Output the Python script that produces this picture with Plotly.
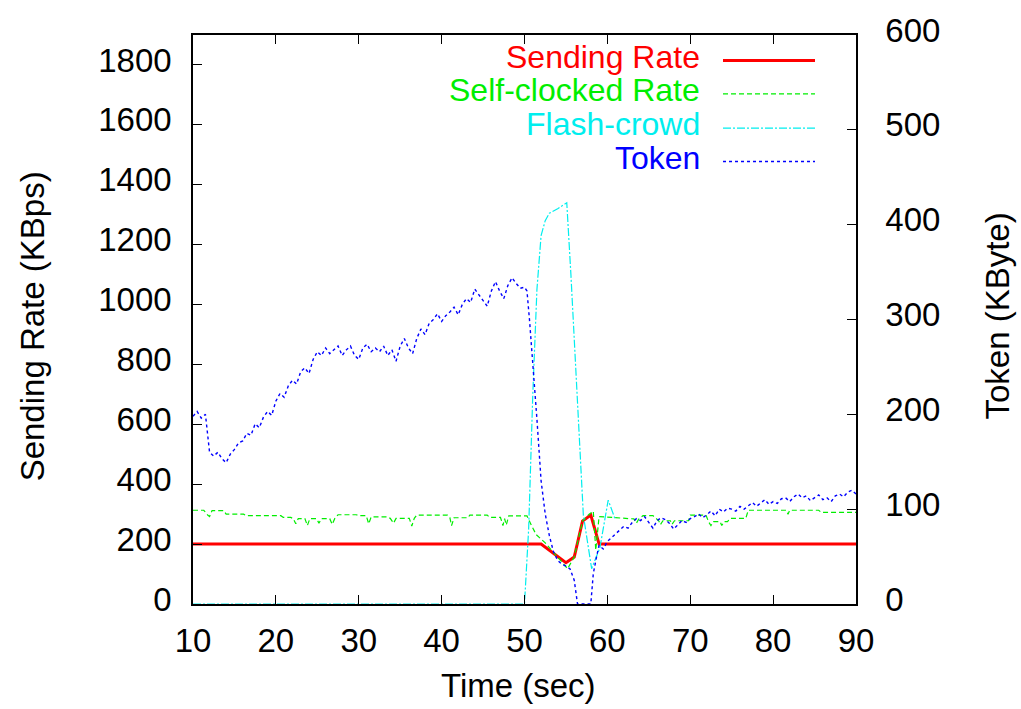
import plotly.graph_objects as go

# ---------------- data ----------------
# Sending Rate (KBps), left axis
send_t = [10, 52, 55, 56, 57, 58, 59, 90]
send_v = [200, 200, 138, 157, 277, 297, 200, 200]

# Self-clocked Rate (KBps), left axis
self_t = [10, 11.3, 11.8, 12.0, 12.3, 13.7, 14.0, 16.1, 16.4, 20.6, 20.9, 21.8, 22.1, 22.4, 22.7,
          23.5, 23.8, 24.1, 24.9, 25.2, 25.5, 26.5, 26.8, 27.1, 27.5, 29.7, 30.0, 30.9, 31.2, 31.5,
          33.4, 33.8, 34.2, 34.5, 36.1, 36.4, 36.7, 37.0, 40.7, 41.0, 41.2, 41.5, 43.2, 43.4,
          45.5, 45.8, 47.1, 47.4, 47.6, 47.8, 48.1, 50.3, 50.8, 51.4, 52.5, 55.2, 56.0, 57.0,
          57.8, 58.3, 58.6, 59.0, 63.2, 63.5, 63.8, 64.3, 65.5, 66.2, 66.4, 66.7, 67.6, 67.8,
          68.1, 68.4, 69.8, 70.0, 71.9, 72.2, 72.5, 72.8, 73.6, 73.8, 74.1, 74.5, 74.8, 76.7,
          77.0, 81.6, 81.8, 82.0, 85.5, 85.8, 90]
self_v = [313, 313, 296, 292, 312, 312, 300, 300, 295, 295, 289, 289, 285, 268, 285,
          285, 262, 285, 285, 270, 285, 285, 266, 285, 298, 298, 295, 295, 268, 291,
          291, 286, 270, 286, 286, 260, 286, 297, 297, 288, 262, 288, 288, 297,
          297, 289, 289, 262, 285, 264, 294, 294, 265, 232, 204, 118, 157, 277,
          300, 310, 180, 292, 284, 270, 284, 295, 295, 278, 265, 278, 278, 266,
          278, 278, 278, 297, 297, 275, 262, 275, 275, 262, 275, 275, 286, 286,
          313, 313, 300, 313, 313, 306, 306]

# Flash-crowd (KBps), left axis
flash_t = [10, 50, 50.5, 51, 51.5, 52, 52.5, 53, 54, 55.1, 55.6, 56.1, 57.1, 58.1, 59.1, 60.1, 60.9]
flash_v = [0, 0, 250, 700, 1050, 1230, 1280, 1305, 1320, 1340, 1100, 843, 297, 118, 188, 347, 286]

# Token (KByte), right axis
token_t = [10.0, 10.5, 11.0, 11.5, 12.0, 12.5, 13.0, 13.5, 14.0, 14.5, 15.0, 15.5, 16.0, 16.5,
           17.0, 17.5, 18.0, 18.5, 19.0, 19.5, 20.0, 20.5, 21.0, 21.5, 22.0, 22.5, 23.0, 23.5,
           24.0, 24.5, 25.0, 25.5, 26.0, 26.5, 27.0, 27.5, 28.0, 28.5, 29.0, 29.5, 30.0, 30.5,
           31.0, 31.5, 32.0, 32.5, 33.0, 33.5, 34.0, 34.5, 35.0, 35.5, 36.0, 36.5, 37.0, 37.5,
           38.0, 38.5, 39.0, 39.5, 40.0, 40.5, 41.0, 41.5, 42.0, 42.5, 43.0, 43.5, 44.0, 44.5,
           45.0, 45.5, 46.0, 46.5, 47.0, 47.5, 48.0, 48.5, 49.0, 49.5, 50.0, 50.3, 50.6, 50.9,
           51.2, 51.5, 52.0, 52.5, 53.0, 53.5, 54.0, 54.5, 55.0, 55.5, 56.0, 56.4, 58.0, 58.3,
           58.7, 59.0, 59.5, 60.0, 60.5, 61.0, 61.5, 62.0, 62.5, 63.0, 63.5, 64.0, 64.5, 65.0,
           65.5, 66.0, 66.5, 67.0, 67.5, 68.0, 68.5, 69.0, 69.5, 70.0, 70.5, 71.0, 71.5, 72.0,
           72.5, 73.0, 73.5, 74.0, 74.5, 75.0, 75.5, 76.0, 76.5, 77.0, 77.5, 78.0, 78.5, 79.0,
           79.5, 80.0, 80.5, 81.0, 81.5, 82.0, 82.5, 83.0, 83.5, 84.0, 84.5, 85.0, 85.5, 86.0,
           86.5, 87.0, 87.5, 88.0, 88.5, 89.0, 89.5, 90.0]
token_v = [198, 203, 196, 200, 160, 156, 160, 153, 149, 158, 163, 170, 172, 180,
           178, 190, 186, 197, 203, 199, 214, 222, 218, 230, 236, 232, 245, 249,
           243, 258, 266, 262, 270, 264, 268, 272, 262, 268, 272, 262, 258, 270,
           274, 266, 270, 266, 272, 262, 268, 256, 272, 280, 270, 264, 280, 290,
           284, 296, 300, 306, 298, 304, 308, 313, 305, 316, 322, 318, 332, 326,
           320, 314, 330, 340, 330, 322, 336, 344, 338, 333, 334, 330, 300, 266,
           230, 195, 130, 95, 72, 55, 46, 42, 40, 37, 25, 0, 0, 32,
           50, 62, 58, 66, 70, 74, 79, 82, 80, 86, 90, 88, 92, 86,
           80, 88, 91, 89, 85, 79, 84, 88, 86, 90, 92, 95, 91, 94,
           98, 93, 100, 97, 101, 100, 98, 103, 100, 104, 107, 103, 107, 110,
           105, 108, 106, 111, 112, 108, 113, 116, 112, 114, 109, 112, 115, 110,
           112, 108, 114, 116, 113, 118, 120, 116]

x_ticks = [10, 20, 30, 40, 50, 60, 70, 80, 90]
y_ticks = [0, 200, 400, 600, 800, 1000, 1200, 1400, 1600, 1800]
y2_ticks = [0, 100, 200, 300, 400, 500, 600]

names = ["Sending Rate", "Self-clocked Rate", "Flash-crowd", "Token"]
colors = ["#ff0000", "#00ee00", "#00eeee", "#0000ff"]
widths = [3, 1.2, 1.2, 1.4]
dashes = ["solid", "5px,3px", "8px,2px,2px,2px", "3px,3px"]

FONT = "Liberation Sans, Arial, Helvetica, sans-serif"
FS = 33
LEG_FS = 32

fig = go.Figure()
series = [(send_t, send_v, "y"), (self_t, self_v, "y"), (flash_t, flash_v, "y"), (token_t, token_v, "y2")]
for (t, v, ax), nm, c, w, d in zip(series, names, colors, widths, dashes):
    fig.add_trace(go.Scatter(x=t, y=v, mode="lines", name=nm, yaxis=ax,
                             line=dict(color=c, width=w, dash=d), showlegend=False))

# manual gnuplot-style legend: right aligned text, sample to the right
L, R, T, B = 193, 856, 24, 604
W, H = R - L, B - T
rows = [50, 84, 119, 153]
for nm, c, w, d, yy in zip(names, colors, widths, dashes, rows):
    py = (B - yy) / H
    fig.add_annotation(x=(701 - L) / W, y=(B - yy + 4) / H, xref="paper", yref="paper", text=nm,
                       showarrow=False, xanchor="right", yanchor="middle", borderpad=0,
                       font=dict(family=FONT, size=LEG_FS, color=c))
    fig.add_shape(type="line", xref="paper", yref="paper", x0=(723 - L) / W, x1=(815 - L) / W,
                  y0=py, y1=py, line=dict(color=c, width=w, dash=d))

# axis titles
fig.add_annotation(x=(518 - L) / W, y=(B - 687) / H, xref="paper", yref="paper", text="Time (sec)",
                   showarrow=False, xanchor="center", yanchor="middle",
                   font=dict(family=FONT, size=FS, color="black"))
fig.add_annotation(x=(32 - L) / W, y=(B - 321) / H, xref="paper", yref="paper",
                   text="Sending Rate (KBps)", textangle=-90,
                   showarrow=False, xanchor="center", yanchor="middle",
                   font=dict(family=FONT, size=FS, color="black"))
fig.add_annotation(x=(998 - L) / W, y=(B - 310) / H, xref="paper", yref="paper",
                   text="Token (KByte)", textangle=-90,
                   showarrow=False, xanchor="center", yanchor="middle",
                   font=dict(family=FONT, size=FS, color="black"))

axis_common = dict(showgrid=False, zeroline=False, showline=True, linecolor="black", linewidth=1.5,
                   ticks="inside", ticklen=9, tickwidth=1, tickcolor="black",
                   tickfont=dict(family=FONT, size=FS, color="black"))

fig.update_layout(
    width=1021, height=709,
    margin=dict(l=L, r=1021 - R, t=T, b=709 - B),
    paper_bgcolor="white", plot_bgcolor="white",
    font=dict(family=FONT, size=FS, color="black"),
    xaxis=dict(range=[10, 90], tickvals=x_ticks, mirror="ticks", ticklabelstandoff=7, **axis_common),
    yaxis=dict(range=[0, 1900], tickvals=y_ticks, mirror=True, ticklabelstandoff=13,
               ticklabelshift=-5, ticklabeloverflow="allow", **axis_common),
    yaxis2=dict(range=[0, 600], tickvals=y2_ticks, overlaying="y", side="right",
                ticklabelstandoff=21, ticklabelshift=-5, ticklabeloverflow="allow", **axis_common),
    showlegend=False,
)

fig.write_html("out.html")
